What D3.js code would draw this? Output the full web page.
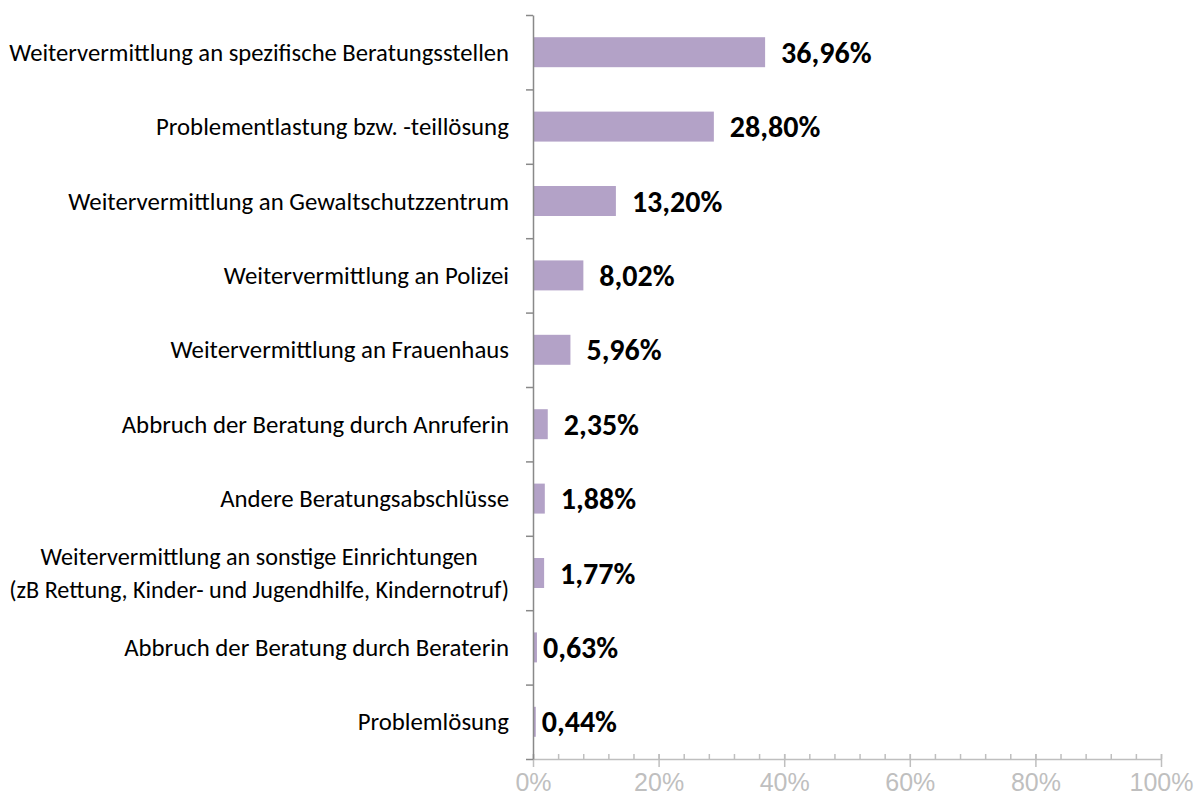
<!doctype html>
<meta charset="utf-8">
<title>Beratungsabschlüsse</title>
<style>
    body {
        margin: 0;
        background: white;
    }

    svg {
        font-family: Carlito, Calibri, Lato, "Open Sans", sans-serif;
    }

    .cat {
        font-size: 24.8px;
        fill: black;
    }

    .val {
        font-size: 30px;
        font-weight: bold;
        fill: black;
    }

    .axis.x text {
        font-size: 25px;
        fill: #bfbfbf;
    }
</style>
<svg width=1195 height=800></svg>
<script src="https://cdn.jsdelivr.net/npm/d3@7"></script>
<script>
    // categories, top to bottom (multi-line labels split with \n)
    var categories = [
        'Weitervermittlung an spezifische Beratungsstellen',
        'Problementlastung bzw. -teillösung',
        'Weitervermittlung an Gewaltschutzzentrum',
        'Weitervermittlung an Polizei',
        'Weitervermittlung an Frauenhaus',
        'Abbruch der Beratung durch Anruferin',
        'Andere Beratungsabschlüsse',
        'Weitervermittlung an sonstige Einrichtungen\n(zB Rettung, Kinder- und Jugendhilfe, Kindernotruf)',
        'Abbruch der Beratung durch Beraterin',
        'Problemlösung'
    ];
    var values = [36.96, 28.80, 13.20, 8.02, 5.96, 2.35, 1.88, 1.77, 0.63, 0.44];
    var xTicks = [0, 20, 40, 60, 80, 100];
    var xMinorTicks = d3.range(0, 101, 4);

    var svg = d3.select('svg');
    var plotLeft = 533, plotRight = 1161, plotTop = 15, plotBottom = 759;
    var labelRight = 509, labelMaxWidth = 500;

    var x = d3.scaleLinear().domain([0, 100]).range([plotLeft, plotRight]);
    var y = d3.scaleBand()
        .domain(categories)
        .range([plotTop, plotBottom])
        .paddingInner(0.597)
        .paddingOuter(0.2985);
    var yIdx = d3.scaleLinear().domain([0, categories.length]).range([plotTop, plotBottom]);

    // bars
    svg.append('g')
        .selectAll('rect')
        .data(values)
        .enter()
        .append('rect')
        .attr('x', x(0))
        .attr('y', function (d, i) { return y(categories[i]); })
        .attr('width', function (d) { return x(d) - x(0); })
        .attr('height', y.bandwidth())
        .attr('fill', '#b3a2c7');

    // value labels (the two tiny bars have their labels pulled in closer)
    svg.append('g')
        .selectAll('text')
        .data(values)
        .enter()
        .append('text')
        .attr('class', 'val')
        .attr('x', function (d) { return x(d) + (d < 1 ? 6 : 16); })
        .attr('y', function (d, i) { return y(categories[i]) + y.bandwidth() / 2; })
        .attr('dy', '0.35em')
        .text(function (d) { return d.toFixed(2).replace('.', ',') + '%'; });

    // category labels
    var cat = svg.append('g')
        .selectAll('text')
        .data(categories)
        .enter()
        .append('text')
        .attr('class', 'cat')
        .attr('text-anchor', 'middle')
        .attr('y', function (d) { return y(d) + y.bandwidth() / 2; });

    cat.each(function (d) {
        var lines = d.split('\n');
        var t = d3.select(this);
        lines.forEach(function (line, j) {
            t.append('tspan')
                .attr('x', 0)
                .attr('dy', j === 0 ? (0.35 - (lines.length - 1) * 0.68) + 'em' : '1.36em')
                .text(line);
        });
    });
    // shrink anything too wide, then centre each block with its right edge at labelRight
    cat.each(function () {
        var t = d3.select(this);
        var w = this.getBBox().width;
        if (w > labelMaxWidth) {
            t.style('font-size', (24.8 * labelMaxWidth / w) + 'px');
            w = this.getBBox().width;
        }
        t.selectAll('tspan').attr('x', labelRight - w / 2);
    });

    // y axis
    var yAxis = svg.append('g')
        .attr('transform', 'translate(' + plotLeft + ',0)')
        .call(d3.axisLeft(yIdx).tickValues(d3.range(categories.length + 1)).tickSize(7).tickSizeOuter(0).tickFormat(''));
    yAxis.select('.domain').attr('stroke', '#898989').attr('stroke-width', 1.5);
    yAxis.selectAll('line').attr('stroke', '#898989').attr('stroke-width', 1.5);

    // x axis
    svg.append('g')
        .attr('transform', 'translate(0,' + plotBottom + ')')
        .call(d3.axisTop(x).tickValues(xMinorTicks).tickSize(5).tickSizeOuter(0).tickFormat(''))
        .call(function (g) {
            g.select('.domain').remove();
            g.selectAll('line').attr('stroke', '#bfbfbf').attr('stroke-width', 1.5);
        });

    var xAxis = svg.append('g')
        .attr('class', 'axis x')
        .attr('transform', 'translate(0,' + plotBottom + ')')
        .call(d3.axisBottom(x).tickValues(xTicks).tickSize(8).tickSizeOuter(0).tickPadding(6).tickFormat(function (d) { return d + '%'; }));
    xAxis.select('.domain').attr('stroke', '#bfbfbf').attr('stroke-width', 1.5);
    xAxis.selectAll('line').attr('y1', -5).attr('stroke', '#bfbfbf').attr('stroke-width', 1.5);
    xAxis.selectAll('text').attr('font-family', null).attr('font-size', null);
    // keep the y axis on top of the x axis line
    yAxis.raise();
</script>
